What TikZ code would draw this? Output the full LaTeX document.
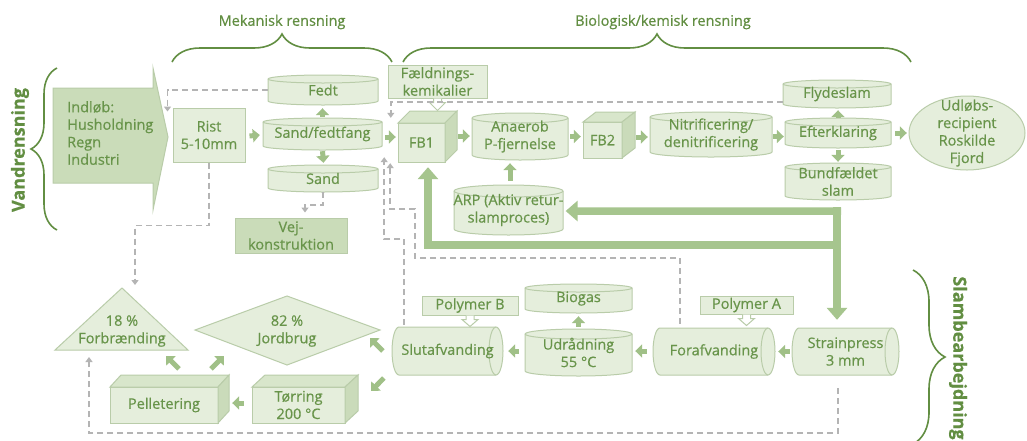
\documentclass[tikz,border=0pt]{standalone}
\usepackage{fontspec}
\setmainfont{Open Sans}[FakeBold=0.6]
\usetikzlibrary{arrows.meta,calc,decorations.pathreplacing}
\definecolor{bfill}{RGB}{229,238,220}
\definecolor{bdraw}{RGB}{185,204,169}
\definecolor{dfill}{RGB}{202,220,185}
\definecolor{tfill}{RGB}{216,230,203}
\definecolor{sfill}{RGB}{202,219,186}
\definecolor{txtc}{RGB}{104,148,74}
\definecolor{titc}{RGB}{98,142,66}
\definecolor{arrc}{RGB}{160,192,135}
\definecolor{fatc}{RGB}{166,197,142}
\definecolor{dashc}{RGB}{180,180,180}
\tikzset{
  lbl/.style={text=txtc, font=\fontsize{14.5}{17.5}\selectfont, align=center, inner sep=0pt},
  shp/.style={fill=bfill, draw=bdraw, line width=1pt},
  boxn/.style={lbl, shp, rectangle},
  blk/.style={draw=arrc, line width=5pt, -{Triangle[length=7pt,width=13pt]}},
  fat/.style={draw=fatc, line width=7.5pt, -{Triangle[length=12pt,width=20pt]}},
  dsh/.style={draw=dashc, line width=1.5pt, dash pattern=on 6pt off 4pt, -{Triangle[length=5pt,width=7pt]}},
  hol/.style={fill=white, draw=bdraw, line width=1pt},
  brc/.style={draw=titc, line width=1.6pt, decorate, decoration={brace, amplitude=#1}},
  ttl/.style={text=titc, font=\fontsize{14.5}{17}\selectfont, inner sep=0pt},
  ttlb/.style={text=titc, font=\fontsize{18}{20}\selectfont\bfseries, inner sep=0pt},
}
% vertical cylinder: name, x1, y1, x2, y2, ry, text
\newcommand\vcylnode[7]{%
  \pgfmathsetmacro\cylhw{(#4-#2)/2}%
  \filldraw[shp] (#2,#3+#6) arc[start angle=180,end angle=0,x radius=\cylhw pt,y radius=#6pt]
     -- (#4,#5-#6) arc[start angle=0,end angle=-180,x radius=\cylhw pt,y radius=#6pt] -- cycle;
  \draw[shp,fill=none] (#2,#3+#6) arc[start angle=180,end angle=360,x radius=\cylhw pt,y radius=#6pt];
  \node[lbl, minimum width=#4pt-#2pt, minimum height=#5pt-#3pt] (#1) at ({(#2+#4)/2},{(#3+#5)/2}) {#7};
}
% horizontal cylinder: name, x1, y1, x2, y2, rx, text
\newcommand\hcylnode[7]{%
  \pgfmathsetmacro\cylhh{(#5-#3)/2}%
  \filldraw[shp] (#2+#6,#3) -- (#4-#6,#3) arc[start angle=90,end angle=-90,x radius=#6pt,y radius=\cylhh pt]
     -- (#2+#6,#5) arc[start angle=270,end angle=90,x radius=#6pt,y radius=\cylhh pt] -- cycle;
  \draw[shp,fill=none] (#4-#6,#3) arc[start angle=90,end angle=270,x radius=#6pt,y radius=\cylhh pt];
  \node[lbl, minimum width=#4pt-#2pt, minimum height=#5pt-#3pt] (#1) at ({(#2+#4)/2},{(#3+#5)/2}) {#7};
}
% cube: name, x1, y1, x2, y2, dx, dy, text
\newcommand\cubenode[8]{%
  \filldraw[shp] (#2,#3) rectangle (#4,#5);
  \filldraw[shp,fill=tfill] (#2,#3) -- (#2+#6,#3-#7) -- (#4+#6,#3-#7) -- (#4,#3) -- cycle;
  \filldraw[shp,fill=sfill] (#4,#3) -- (#4+#6,#3-#7) -- (#4+#6,#5-#7) -- (#4,#5) -- cycle;
  \node[lbl, minimum width=#4pt-#2pt, minimum height=#5pt-#3pt] (#1) at ({(#2+#4)/2},{(#3+#5)/2}) {#8};
}
\begin{document}
\begin{tikzpicture}[x=1pt,y=-1pt]
\useasboundingbox (0,0) rectangle (1027,440);
\fill[white] (0,0) rectangle (1027,440);

% titles and braces
\node[ttl] (mek) at (282,22) {Mekanisk rensning};
\node[ttl] (bio) at (663,22) {Biologisk/kemisk rensning};
\draw[brc=28pt] (172,62) -- (392,62);
\draw[brc=28pt] (403,62) -- (911,62);
\node[ttlb, rotate=90] (vand) at (20,150) {Vandrensning};
\draw[brc=26pt] (57,230) -- (57,68);
\node[ttlb, rotate=-90] (slam) at (958,358) {Slambearbejdning};
\draw[brc=32pt] (913,270) -- (913,444);

% inlet arrow
\filldraw[shp, fill=dfill] (53,88) -- (153,88) -- (153,68) -- (168,137) -- (153,210) -- (153,183) -- (53,183) -- cycle;
\node[lbl, align=left, anchor=north west] (ind) at (67,101) {Indløb:\\Husholdning\\Regn\\Industri};

% mechanical
\node[boxn, minimum width=72pt, minimum height=54pt] (rist) at (209,135) {Rist\\5-10mm};
\vcylnode{fedt}{268}{75}{378}{105}{4}{Fedt}
\vcylnode{sandfedt}{263}{118}{382}{150}{4}{Sand/fedtfang}
\vcylnode{sand}{268}{165}{378}{192}{4}{Sand}
\node[boxn, fill=dfill, minimum width=112pt, minimum height=35pt] (vej) at (291,235.5) {Vej-\\konstruktion};

% biological
\node[boxn, minimum width=99pt, minimum height=33pt] (faeld) at (437.5,81.5) {Fældnings-\\kemikalier};
\cubenode{fb1}{398}{123}{445}{162}{12}{12}{FB1}
\vcylnode{anaer}{472}{113}{568}{160}{5}{Anaerob\\P-fjernelse}
\cubenode{fb2}{583}{122}{622}{158}{13}{10}{FB2}
\vcylnode{nitri}{650}{112}{772}{157}{5}{Nitrificering/\\denitrificering}
\vcylnode{flyd}{783}{80}{891}{108}{4}{Flydeslam}
\vcylnode{efter}{785}{118}{891}{148}{4}{Efterklaring}
\vcylnode{bund}{785}{163}{891}{200}{4}{Bundfældet\\slam}
\draw[shp] (967,133) ellipse[x radius=58pt, y radius=37pt];
\node[lbl, minimum width=116pt, minimum height=74pt] (udlob) at (967,133) {Udløbs-\\recipient\\Roskilde\\Fjord};
\vcylnode{arp}{454}{185}{563}{235}{6}{ARP (Aktiv retur-\\slamproces)}

% sludge
\filldraw[shp] (122,288) -- (188,350) -- (55,350) -- cycle;
\coordinate (forbtop) at (122,288);
\coordinate (forbL) at (55,350);
\node[lbl] (forb) at (122,331) {18 \%\\Forbrænding};
\filldraw[shp] (195,330) -- (287,296) -- (380,330) -- (287,365) -- cycle;
\node[lbl] (jord) at (287,331) {82 \%\\Jordbrug};
\cubenode{pell}{110}{387}{218}{423}{11}{12}{Pelletering}
\cubenode{tor}{252}{387}{345}{423}{13}{12}{Tørring\\200 °C}
\hcylnode{slut}{392}{327}{503}{375}{7}{Slutafvanding}
\node[boxn, minimum width=96pt, minimum height=19pt] (polb) at (470,305.5) {Polymer B};
\vcylnode{biogas}{525}{284}{632}{313}{4}{Biogas}
\vcylnode{udr}{525}{329}{632}{376}{5}{Udrådning\\55 °C}
\hcylnode{foraf}{653}{328}{775}{375}{7}{Forafvanding}
\node[boxn, minimum width=93pt, minimum height=18pt] (pola) at (746.5,305) {Polymer A};
\hcylnode{strain}{792}{328}{899}{375}{7}{Strainpress\\3 mm}

% hollow arrows
\draw[hol] (faeld.south) ++(-4,0) -- ++(0,4) -- ++(-4,0) -- ++(8,8) -- ++(8,-8) -- ++(-4,0) -- ++(0,-4);
\draw[hol] (polb.south) ++(-4,0) -- ++(0,4) -- ++(-4,0) -- ++(8,7) -- ++(8,-7) -- ++(-4,0) -- ++(0,-4);
\draw[hol] (pola.south) ++(-4,0) -- ++(0,4) -- ++(-4,0) -- ++(8,7) -- ++(8,-7) -- ++(-4,0) -- ++(0,-4);

% dashed connectors
\draw[dsh] (fedt.west) -| ($(rist.north west)+(-5,4)$);
\draw[dsh] ($(flyd.west)+(0,8)$) -| ($(fb1.north west)+(-7,-5)$);
\draw[dsh] (rist.south) -- ++(0,63) -| ($(forbtop)+(13,-3)$);
\draw[dsh] (sand.south) -- ++(0,13) -| ($(vej.north)+(14,-5)$);
\draw[dsh] ($(slut.north)+(-43.5,-2)$) -- ++(0,-86) -| ($(sandfedt.south east)+(2,7)$);
\draw[dsh] ($(foraf.north)+(-34,-4)$) -- ++(0,-66) -- ++(-265,0) -- ++(0,-49) -| ($(sandfedt.south east)+(8,13)$);
\draw[dsh] ($(strain.south)+(-7.5,13)$) -- ++(0,45) -| ($(forbL)+(34,7)$);

% thick connectors
\coordinate (split) at ($(bund.south)+(-1,7)$);
\draw[fat] ($(split)+(4,4)$) -- ($(arp.east)+(2,1)$);
\draw[fat] ($(split)+(4,38)$) -| ($(fb1.south)+(6.5,5)$);
\draw[fat] (split) -- ($(strain.north)+(-8.5,-8)$);

% block arrows
\draw[blk] ($(rist.east)+(4,1)$) -- ($(sandfedt.west)+(-3,1)$);
\draw[blk] ($(sandfedt.north)+(0,-1)$) -- ($(fedt.south)+(-0.5,3)$);
\draw[blk] ($(sandfedt.south)+(0,1)$) -- ($(sand.north)+(0.5,-2)$);
\draw[blk] ($(sandfedt.east)+(3,3)$) -- ($(fb1.west)+(-2,-5.5)$);
\draw[blk] ($(fb1.east)+(13,-6.5)$) -- ($(anaer.west)+(-2,-0.5)$);
\draw[blk] ($(anaer.east)+(2,0)$) -- ($(fb2.west)+(-2,-3.5)$);
\draw[blk] ($(fb2.east)+(14,-3)$) -- ($(nitri.west)+(-2,2.5)$);
\draw[blk] ($(nitri.east)+(1,2)$) -- ($(efter.west)+(-1,3.5)$);
\draw[blk] ($(efter.north)+(0,-1)$) -- ($(flyd.south)+(1,2)$);
\draw[blk] ($(efter.south)+(0,2)$) -- ($(bund.north)+(0,-1)$);
\draw[blk] ($(efter.east)+(4,0)$) -- ($(udlob.west)+(-2,0)$);
\draw[blk] ($(arp.north)+(1.5,-4)$) -- ($(anaer.south)+(-10,3)$);
\draw[blk] ($(tor.west)+(-8,-2)$) -- ($(pell.east)+(14,-2)$);
\draw[blk] ($(pell.north)+(15,-18)$) -- ($(forb)+(44,25)$);
\draw[blk] ($(pell.north)+(47,-18)$) -- ($(jord)+(-63,25)$);
\draw[blk] ($(slut.west)+(-9,0)$) -- ($(jord)+(83,7)$);
\draw[blk] ($(slut.west)+(-8,27)$) -- ($(tor.east)+(26,-14)$);
\draw[blk] ($(udr.north)+(0,-2)$) -- ($(biogas.south)+(0,3)$);
\draw[blk] ($(udr.west)+(-6,-1.5)$) -- ($(slut.east)+(5,0)$);
\draw[blk] ($(foraf.west)+(-6,-0.5)$) -- ($(udr.east)+(3,-1.5)$);
\draw[blk] ($(strain.west)+(-2,0)$) -- ($(foraf.east)+(3,0)$);
\end{tikzpicture}
\end{document}
